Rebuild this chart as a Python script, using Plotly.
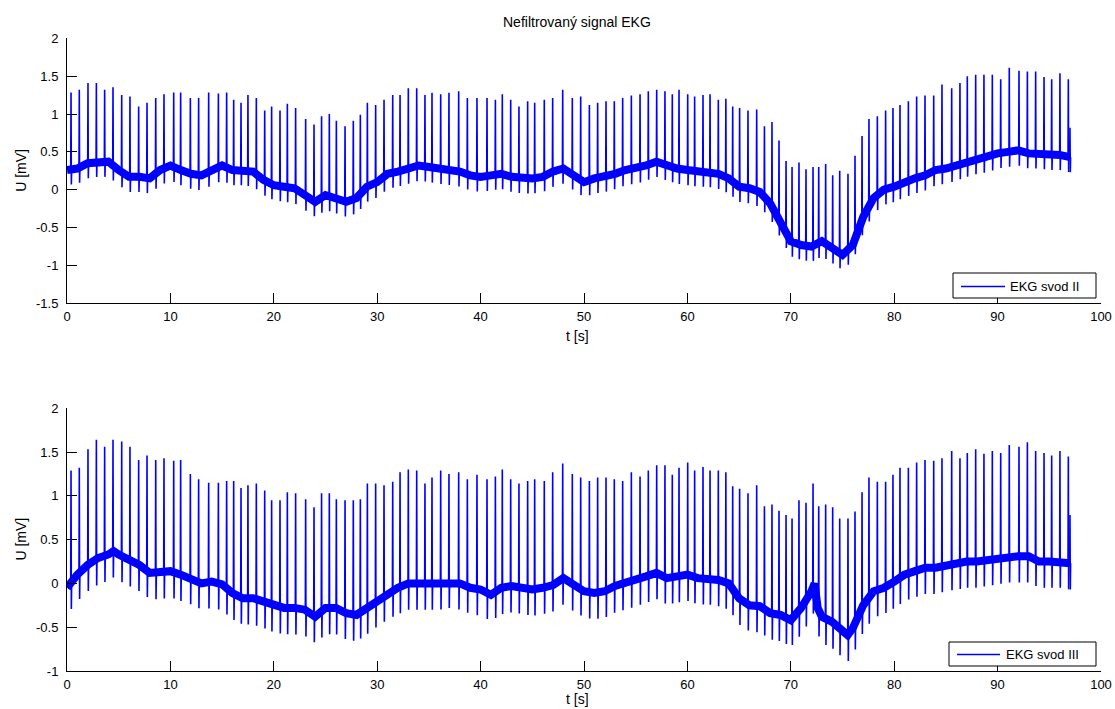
import numpy as np
import plotly.graph_objects as go

# ---------------- data ----------------
BEAT_T = [0.39, 1.19, 2.03, 2.84, 3.64, 4.45, 5.29, 6.09, 6.93, 7.74,
          8.58, 9.38, 10.32, 10.99, 11.93, 12.73, 13.70, 14.64, 15.44, 16.12,
          16.83, 17.50, 18.31, 19.12, 19.79, 20.60, 21.31, 22.11, 23.08, 23.89,
          24.62, 25.37, 26.05, 26.89, 27.69, 28.37, 29.05, 29.85, 30.66, 31.50,
          32.21, 33.01, 33.82, 34.62, 35.30, 36.14, 36.94, 37.88, 38.72, 39.65,
          40.62, 41.43, 42.10, 42.91, 43.71, 44.55, 45.23, 46.16, 46.97, 47.94,
          48.87, 49.68, 50.52, 51.32, 52.13, 52.93, 53.74, 54.58, 55.42, 56.22,
          57.03, 57.83, 58.54, 59.19, 60.03, 60.70, 61.51, 62.19, 62.99, 63.72,
          64.38, 65.05, 65.86, 66.70, 67.45, 68.18, 68.86, 69.54, 70.12, 70.79,
          71.47, 72.15, 72.70, 73.37, 74.05, 74.73, 75.53, 76.21, 76.89, 77.56,
          78.37, 79.17, 79.88, 80.56, 81.37, 82.17, 82.98, 83.82, 84.62, 85.56,
          86.36, 87.07, 87.88, 88.68, 89.49, 90.30, 91.13, 92.07, 92.88, 93.68,
          94.49, 95.23, 96.03, 96.84, 97.00]

PEAK_II = [1.285, 1.32, 1.41, 1.41, 1.32, 1.355, 1.25, 1.23, 1.10, 1.15,
           1.21, 1.26, 1.285, 1.285, 1.21, 1.21, 1.285, 1.27, 1.285, 1.19,
           1.15, 1.25, 1.21, 1.045, 1.10, 1.045, 1.135, 1.08, 0.935, 0.86,
           0.97, 1.00, 0.91, 0.84, 0.91, 0.99, 1.15, 1.12, 1.19, 1.25,
           1.25, 1.34, 1.34, 1.25, 1.28, 1.26, 1.28, 1.30, 1.21, 1.21,
           1.21, 1.19, 1.26, 1.19, 1.10, 1.17, 1.15, 1.19, 1.21, 1.32,
           1.21, 1.23, 1.12, 1.15, 1.17, 1.17, 1.21, 1.245, 1.26, 1.30,
           1.32, 1.30, 1.26, 1.32, 1.26, 1.23, 1.25, 1.26, 1.19, 1.20,
           1.10, 1.08, 1.045, 1.06, 0.84, 0.895, 0.65, 0.38, 0.30, 0.36,
           0.27, 0.30, 0.30, 0.34, 0.19, 0.25, 0.21, 0.45, 0.71, 0.935,
           0.97, 1.045, 1.08, 1.12, 1.17, 1.23, 1.245, 1.245, 1.39, 1.34,
           1.41, 1.50, 1.52, 1.52, 1.52, 1.46, 1.61, 1.57, 1.56, 1.56,
           1.49, 1.46, 1.54, 1.46, 0.82]

PEAK_III = [1.29, 1.32, 1.53, 1.64, 1.56, 1.64, 1.62, 1.56, 1.41, 1.46,
            1.41, 1.43, 1.40, 1.41, 1.25, 1.19, 1.15, 1.15, 1.17, 1.17,
            1.09, 1.12, 1.14, 1.06, 0.95, 0.95, 1.04, 1.03, 0.96, 0.87,
            1.03, 1.03, 0.96, 0.95, 0.95, 0.96, 1.14, 1.14, 1.12, 1.16,
            1.27, 1.30, 1.29, 1.14, 1.21, 1.29, 1.25, 1.27, 1.19, 1.24,
            1.19, 1.22, 1.30, 1.19, 1.14, 1.17, 1.19, 1.17, 1.27, 1.37,
            1.25, 1.21, 1.17, 1.21, 1.21, 1.19, 1.17, 1.27, 1.22, 1.29,
            1.35, 1.35, 1.24, 1.32, 1.38, 1.29, 1.33, 1.29, 1.29, 1.27,
            1.11, 1.08, 1.03, 1.12, 0.88, 0.90, 0.83, 0.78, 0.74, 0.95,
            0.92, 1.14, 0.88, 0.90, 0.87, 0.74, 0.74, 0.82, 1.04, 1.21,
            1.16, 1.16, 1.24, 1.32, 1.32, 1.38, 1.41, 1.40, 1.43, 1.51,
            1.43, 1.49, 1.53, 1.48, 1.51, 1.49, 1.58, 1.56, 1.61, 1.51,
            1.49, 1.46, 1.51, 1.45, 0.78]

# baseline (centre of the noisy band)
BASE_T_II = list(range(0, 98))
BASE_II = [0.26, 0.28, 0.35, 0.37, 0.37, 0.26, 0.17, 0.17, 0.15, 0.26,
           0.32, 0.26, 0.21, 0.19, 0.26, 0.32, 0.26, 0.26, 0.24, 0.13,
           0.06, 0.04, 0.02, -0.07, -0.16, -0.07, -0.11, -0.16, -0.11, 0.04,
           0.10, 0.21, 0.24, 0.28, 0.32, 0.30, 0.28, 0.26, 0.24, 0.19,
           0.17, 0.19, 0.21, 0.17, 0.15, 0.15, 0.17, 0.24, 0.28, 0.19,
           0.10, 0.15, 0.17, 0.21, 0.26, 0.28, 0.32, 0.37, 0.32, 0.28,
           0.26, 0.24, 0.24, 0.21, 0.15, 0.04, 0.02, -0.03, -0.18, -0.44,
           -0.68, -0.73, -0.75, -0.68, -0.77, -0.86, -0.73, -0.36, -0.11, 0.00,
           0.04, 0.10, 0.15, 0.19, 0.26, 0.28, 0.32, 0.37, 0.41, 0.43,
           0.48, 0.50, 0.52, 0.48, 0.48, 0.46, 0.46, 0.43]

BASE_T_III = [0, 1, 2, 3, 4, 4.5, 5, 6, 7, 8, 9, 10, 11, 12, 13, 14, 15, 16, 17, 18,
              19, 20, 21, 22, 23, 24, 25, 26, 27, 28, 29, 30, 31, 32, 33, 34, 35, 36,
              37, 38, 39, 40, 41, 42, 43, 44, 45, 46, 47, 48, 49, 50, 51, 52, 53, 54,
              55, 56, 57, 58, 59, 60, 61, 62, 63, 64, 65, 66, 67, 68, 69, 70, 71, 72,
              72.3, 72.6, 73, 74, 75, 75.5, 76, 77, 78, 79, 80, 81, 82, 83, 84, 85, 86,
              87, 88, 89, 90, 91, 92, 93, 94, 95, 96, 97]
BASE_III = [-0.05, 0.10, 0.21, 0.29, 0.33, 0.37, 0.33, 0.27, 0.21, 0.12, 0.12, 0.14,
            0.10, 0.06, 0.00, 0.02, -0.01, -0.11, -0.17, -0.17, -0.21, -0.26, -0.28,
            -0.28, -0.30, -0.38, -0.28, -0.28, -0.34, -0.36, -0.28, -0.19, -0.11, -0.05,
            0.00, 0.00, 0.00, 0.00, 0.02, 0.00, -0.05, -0.07, -0.13, -0.05, -0.03, -0.05,
            -0.07, -0.05, -0.02, 0.06, -0.02, -0.09, -0.11, -0.09, -0.03, 0.00, 0.04,
            0.08, 0.12, 0.06, 0.08, 0.10, 0.06, 0.06, 0.04, 0.00, -0.17, -0.25, -0.26,
            -0.34, -0.36, -0.42, -0.28, -0.09, 0.00, -0.28, -0.38, -0.44, -0.55, -0.59,
            -0.51, -0.25, -0.09, -0.05, 0.02, 0.10, 0.14, 0.18, 0.18, 0.21, 0.23, 0.25,
            0.25, 0.27, 0.29, 0.31, 0.31, 0.31, 0.25, 0.25, 0.25, 0.23]

S_DEPTH_II = 0.20
S_DEPTH_III = 0.30

X_TICKS = [0, 10, 20, 30, 40, 50, 60, 70, 80, 90, 100]
Y_TICKS_II = [-1.5, -1, -0.5, 0, 0.5, 1, 1.5, 2]
Y_TICKTEXT_II = ["-1.5", "-1", "-0.5", "0", "0.5", "1", "1.5", "2"]
Y_TICKS_III = [-1, -0.5, 0, 0.5, 1, 1.5, 2]
Y_TICKTEXT_III = ["-1", "-0.5", "0", "0.5", "1", "1.5", "2"]

TITLE = "Nefiltrovaný signal EKG"
NAME_II = "EKG svod II"
NAME_III = "EKG svod III"
Y_LABEL = "U [mV]"
X_LABEL = "t [s]"

# ---------------- figure ----------------
W, H = 1115, 709
BLUE = "#0000FF"
FONT = "Liberation Sans, Arial, sans-serif"


def spikes(beats, peaks, bt, bv, sdepth):
    xs, ys = [], []
    for t, p in zip(beats, peaks):
        b = float(np.interp(t, bt, bv))
        xs += [t - 0.03, t, t + 0.03, t + 0.06, None]
        ys += [b, p, b - sdepth, b, None]
    return xs, ys


fig = go.Figure()

# top: lead II
fig.add_trace(go.Scatter(x=BASE_T_II, y=BASE_II, mode="lines",
                         line=dict(color=BLUE, width=8), showlegend=False,
                         hoverinfo="skip", xaxis="x", yaxis="y"))
sx, sy = spikes(BEAT_T, PEAK_II, BASE_T_II, BASE_II, S_DEPTH_II)
fig.add_trace(go.Scatter(x=sx, y=sy, mode="lines", name=NAME_II, showlegend=False,
                         line=dict(color=BLUE, width=1.6), xaxis="x", yaxis="y"))

# bottom: lead III
fig.add_trace(go.Scatter(x=BASE_T_III, y=BASE_III, mode="lines",
                         line=dict(color=BLUE, width=8), showlegend=False,
                         hoverinfo="skip", xaxis="x2", yaxis="y2"))
sx, sy = spikes(BEAT_T, PEAK_III, BASE_T_III, BASE_III, S_DEPTH_III)
fig.add_trace(go.Scatter(x=sx, y=sy, mode="lines", name=NAME_III, showlegend=False,
                         line=dict(color=BLUE, width=1.6), xaxis="x2", yaxis="y2"))

X0, X1 = 67, 1101
TOP_Y0, TOP_Y1 = 38.3, 303.3
BOT_Y0, BOT_Y1 = 408.2, 671.0


def px(x):
    return x / W


def py(y):
    return 1 - y / H


axis_common = dict(showgrid=False, zeroline=False, showline=True, linecolor="black",
                   linewidth=1, ticks="inside", ticklen=10, tickcolor="black",
                   tickfont=dict(family=FONT, size=13, color="black"), mirror=False,
                   automargin=False)

fig.update_layout(
    width=W, height=H, margin=dict(l=0, r=0, t=0, b=0, autoexpand=False),
    paper_bgcolor="white", plot_bgcolor="white", showlegend=False,
    xaxis=dict(domain=[px(X0), px(X1)], range=[0, 100], tickvals=X_TICKS,
               anchor="y", ticklabelstandoff=1, **axis_common),
    yaxis=dict(domain=[py(TOP_Y1), py(TOP_Y0)], range=[-1.5, 2], tickvals=Y_TICKS_II,
               ticktext=Y_TICKTEXT_II, anchor="x", ticklabelstandoff=5, **axis_common),
    xaxis2=dict(domain=[px(X0), px(X1)], range=[0, 100], tickvals=X_TICKS,
                anchor="y2", ticklabelstandoff=1, **axis_common),
    yaxis2=dict(domain=[py(BOT_Y1), py(BOT_Y0)], range=[-1, 2], tickvals=Y_TICKS_III,
                ticktext=Y_TICKTEXT_III, anchor="x2", ticklabelstandoff=5, **axis_common),
)

ann_font = dict(family=FONT, size=13, color="black")
title_font = dict(family=FONT, size=14, color="black")


def legend_box(x0, x1, y0, y1, lx0, lx1, tx, name):
    """MATLAB-style legend box (pixel positions on the page)."""
    ym = round((y0 + y1) / 2) + 0.5
    shapes = [
        dict(type="rect", xref="paper", yref="paper", x0=px(x0), x1=px(x1),
             y0=py(y1), y1=py(y0), line=dict(color="black", width=1),
             fillcolor="white", layer="above"),
        dict(type="line", xref="paper", yref="paper", x0=px(lx0), x1=px(lx1),
             y0=py(ym), y1=py(ym), line=dict(color=BLUE, width=1.5), layer="above"),
    ]
    ann = dict(text=name, x=px(tx), y=py(ym), xref="paper", yref="paper",
               xanchor="left", yanchor="middle", showarrow=False, font=ann_font)
    return shapes, ann


s1, a1 = legend_box(953, 1096, 273, 298, 961, 1005, 1008, NAME_II)
s2, a2 = legend_box(949, 1096, 642, 666, 957, 1000, 1004, NAME_III)

annotations = [
    dict(text=TITLE, x=px(577), y=py(22), xref="paper", yref="paper",
         xanchor="center", yanchor="middle", showarrow=False, font=title_font),
    dict(text=Y_LABEL, x=px(21), y=py((TOP_Y0 + TOP_Y1) / 2), xref="paper", yref="paper",
         xanchor="center", yanchor="middle", showarrow=False, font=title_font,
         textangle=-90),
    dict(text=Y_LABEL, x=px(21), y=py((BOT_Y0 + BOT_Y1) / 2), xref="paper", yref="paper",
         xanchor="center", yanchor="middle", showarrow=False, font=title_font,
         textangle=-90),
    dict(text=X_LABEL, x=px(577), y=py(336), xref="paper", yref="paper",
         xanchor="center", yanchor="middle", showarrow=False, font=title_font),
    dict(text=X_LABEL, x=px(577), y=py(699), xref="paper", yref="paper",
         xanchor="center", yanchor="middle", showarrow=False, font=title_font),
    a1, a2,
]
fig.update_layout(annotations=annotations, shapes=s1 + s2)

fig.write_html("out.html")
